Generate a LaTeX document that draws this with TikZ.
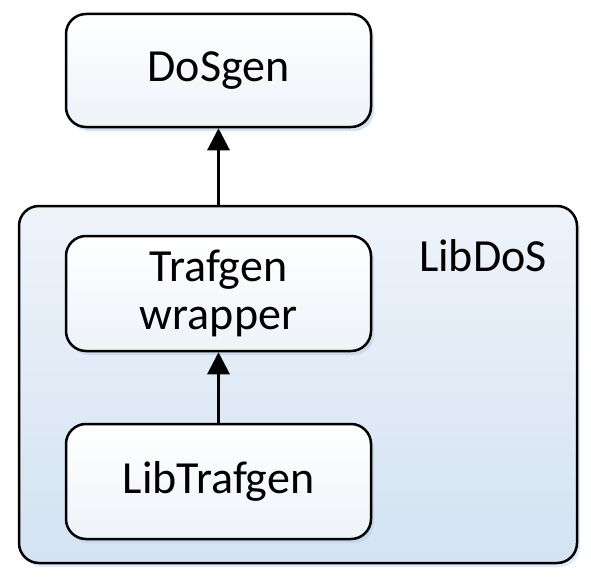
\documentclass[tikz,border=0pt]{standalone}
\usepackage{fontspec}
\setmainfont{Carlito}
\usepackage{tikz}
\usetikzlibrary{arrows.meta,shadows}

\definecolor{boxtop}{HTML}{FFFFFF}
\definecolor{boxbot}{HTML}{EEF3F9}
\definecolor{libtop}{HTML}{EEF3FA}
\definecolor{libbot}{HTML}{D3E3F2}
\definecolor{shade}{HTML}{B9CFE8}

\tikzset{
  block/.style={draw, line width=2.5pt, rounded corners=20pt, minimum width=305pt,
    minimum height=115pt, top color=boxtop, bottom color=boxbot, align=center,
    font=\fontsize{46}{48}\selectfont,
    drop shadow={fill=shade, opacity=0.6, shadow xshift=3pt, shadow yshift=-4pt}},
  libbox/.style={draw, line width=2.5pt, rounded corners=20pt, minimum width=558pt,
    minimum height=357pt, top color=libtop, bottom color=libbot,
    drop shadow={fill=shade, opacity=0.4, shadow xshift=3pt, shadow yshift=-4pt}},
  up/.style={line width=3pt, -{Triangle[width=22pt,length=22pt]}}
}

\begin{document}
\begin{tikzpicture}[x=1pt,y=-1pt]
\useasboundingbox (0,0) rectangle (591,578);
% outer library
\node[libbox] (libdos) at (298,384.5) {};
\node[font=\fontsize{46}{48}\selectfont] (libdoslabel) at (483,256) {LibDoS};
% blocks
\node[block, minimum height=113pt] (dosgen) at (218.5,70.5) {DoSgen};
\node[block] (wrapper) at (218.5,293.5) {Trafgen\\wrapper};
\node[block] (libtrafgen) at (218.5,481.5) {LibTrafgen};
% arrows
\draw[up] (libdos.north -| dosgen.south) -- (dosgen.south);
\draw[up] (libtrafgen.north) -- (wrapper.south);
\end{tikzpicture}
\end{document}
